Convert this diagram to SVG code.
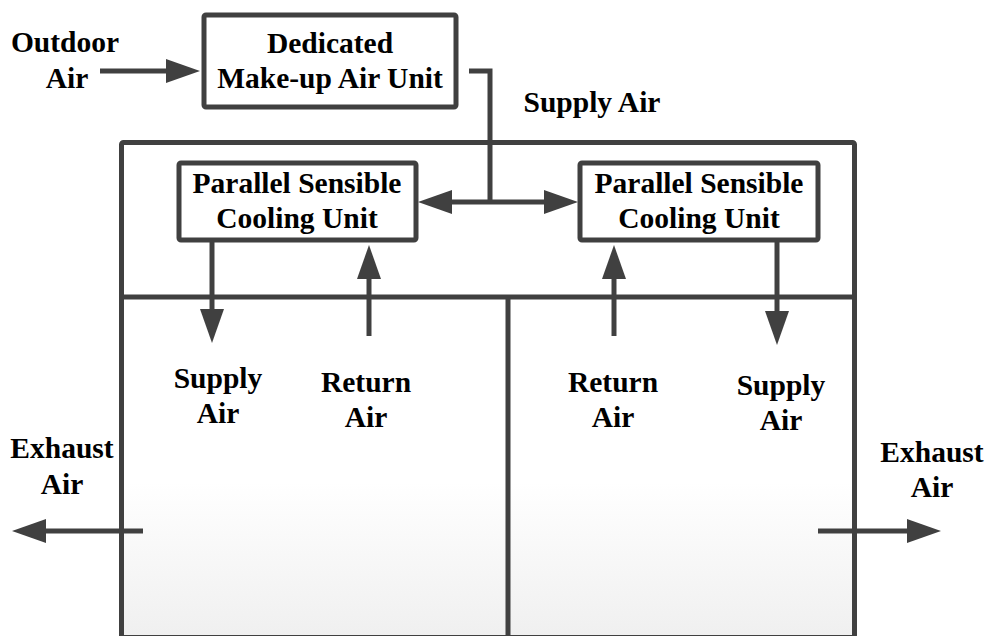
<svg xmlns="http://www.w3.org/2000/svg" width="988" height="636" viewBox="0 0 988 636">
<defs>
<style>
.t{font-family:"Liberation Serif","Times New Roman",serif;font-weight:bold;font-size:29.5px;fill:#000;text-anchor:middle}
.box{fill:#fff;stroke:#404040;stroke-width:5}
.ln{fill:none;stroke:#404040;stroke-width:5}
.ar{fill:none;stroke:#404040;stroke-width:5;marker-end:url(#ah)}
</style>
<marker id="ah" markerUnits="userSpaceOnUse" markerWidth="36" markerHeight="24" refX="6" refY="12" orient="auto"><path d="M0,0 L34,12 L0,24 Z" fill="#404040"/></marker>
<marker id="ahs" markerUnits="userSpaceOnUse" markerWidth="36" markerHeight="24" refX="6" refY="12" orient="auto-start-reverse"><path d="M0,0 L34,12 L0,24 Z" fill="#404040"/></marker>
<linearGradient id="g" x1="0" y1="297" x2="0" y2="634" gradientUnits="userSpaceOnUse">
<stop offset="0" stop-color="#fff"/><stop offset="0.55" stop-color="#fff"/><stop offset="1" stop-color="#f0f0f0"/>
</linearGradient>
</defs>
<g id="building">
<rect x="121.5" y="142.5" width="733" height="494.5" fill="#fff" stroke="#404040" stroke-width="5" rx="2"/>
<rect x="124" y="299" width="382" height="336" fill="url(#g)"/>
<rect x="510" y="299" width="342" height="336" fill="url(#g)"/>
<line class="ln" x1="121.5" y1="297" x2="854.5" y2="297"/>
<line class="ln" x1="508" y1="297" x2="508" y2="636"/>
</g>
<g id="connectors">
<path class="ar" d="M100,71 L172,71"/>
<path class="ln" d="M469,71 L490,71 L490,202"/>
<path class="ln" d="M446,202 L550,202" marker-start="url(#ahs)" marker-end="url(#ah)"/>
<path class="ar" d="M212,240 L212,315"/>
<path class="ar" d="M369,336 L369,273"/>
<path class="ar" d="M614,336 L614,273"/>
<path class="ar" d="M777,240 L777,317"/>
<path class="ar" d="M143,531 L40,531"/>
<path class="ar" d="M818,531 L913,531"/>
</g>
<g id="mau">
<rect class="box" x="204" y="15" width="252" height="92" rx="2"/>
<text class="t" x="330" y="53">Dedicated</text>
<text class="t" x="330" y="88">Make-up Air Unit</text>
</g>
<g id="pscu-left">
<rect class="box" x="179" y="163" width="237" height="77" rx="2"/>
<text class="t" x="297" y="193">Parallel Sensible</text>
<text class="t" x="297" y="228">Cooling Unit</text>
</g>
<g id="pscu-right">
<rect class="box" x="580" y="163" width="238" height="77" rx="2"/>
<text class="t" x="699" y="193">Parallel Sensible</text>
<text class="t" x="699" y="228">Cooling Unit</text>
</g>
<g id="labels">
<text class="t" x="65" y="52">Outdoor</text>
<text class="t" x="67" y="88">Air</text>
<text class="t" x="592" y="112">Supply Air</text>
<text class="t" x="218" y="388">Supply</text>
<text class="t" x="218" y="423">Air</text>
<text class="t" x="366" y="392">Return</text>
<text class="t" x="366" y="427">Air</text>
<text class="t" x="613" y="392">Return</text>
<text class="t" x="613" y="427">Air</text>
<text class="t" x="781" y="395">Supply</text>
<text class="t" x="781" y="430">Air</text>
<text class="t" x="62" y="458">Exhaust</text>
<text class="t" x="62" y="494">Air</text>
<text class="t" x="932" y="462">Exhaust</text>
<text class="t" x="932" y="497">Air</text>
</g>
</svg>
